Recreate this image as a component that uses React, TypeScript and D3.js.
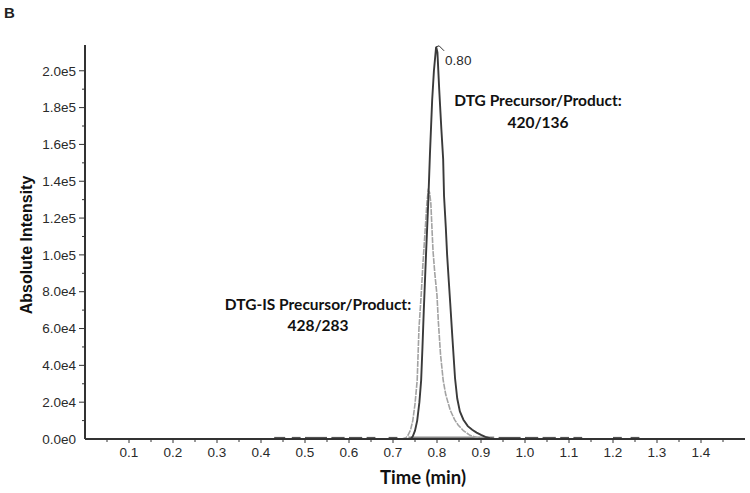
import React from "react";
import * as d3 from "d3";

const W = 750;
const H = 493;

// DTG (420/136) chromatogram: [time (min), intensity]
const dtgTime = [0, 0.72, 0.74, 0.745, 0.75, 0.755, 0.76, 0.764, 0.767, 0.77, 0.775, 0.78, 0.784, 0.789, 0.793, 0.798, 0.801, 0.805, 0.81, 0.814, 0.816, 0.82, 0.823, 0.827, 0.83, 0.835, 0.841, 0.846, 0.852, 0.86, 0.87, 0.88, 0.89, 0.9, 0.91, 0.92, 0.93, 1.5];
const dtgValue = [0, 0, 0, 1500, 4500, 10000, 20000, 32000, 50000, 70000, 100000, 128000, 155000, 184000, 200000, 213000, 210000, 190000, 168000, 152000, 132000, 115000, 100000, 85000, 74000, 55000, 33000, 22000, 15000, 10500, 7000, 5000, 3500, 2200, 1200, 500, 0, 0];

// DTG-IS (428/283) chromatogram
const isTime = [0.72, 0.73, 0.734, 0.74, 0.745, 0.75, 0.755, 0.759, 0.764, 0.768, 0.773, 0.777, 0.78, 0.783, 0.786, 0.789, 0.791, 0.795, 0.8, 0.803, 0.808, 0.814, 0.82, 0.83, 0.84, 0.848, 0.86, 0.875, 0.89, 0.92];
const isValue = [0, 800, 2000, 5000, 10000, 19000, 32000, 60000, 78000, 95000, 113000, 128000, 135000, 134000, 128000, 112000, 102000, 90000, 78000, 64000, 46000, 32000, 24000, 15700, 10500, 7600, 4500, 2000, 800, 0];

// baseline noise segments (start, end in min)
const noiseStart = [0.43, 0.47, 0.5, 0.56, 0.6, 0.64, 0.69, 0.94, 1.0, 1.04, 1.08, 1.11, 1.2, 1.24];
const noiseEnd = [0.455, 0.49, 0.55, 0.59, 0.63, 0.66, 0.71, 0.99, 1.03, 1.07, 1.1, 1.13, 1.22, 1.26];

const xTicks = [0.1, 0.2, 0.3, 0.4, 0.5, 0.6, 0.7, 0.8, 0.9, 1.0, 1.1, 1.2, 1.3, 1.4];
const yTicks = [0, 20000, 40000, 60000, 80000, 100000, 120000, 140000, 160000, 180000, 200000];
const yTickLabels = ["0.0e0", "2.0e4", "4.0e4", "6.0e4", "8.0e4", "1.0e5", "1.2e5", "1.4e5", "1.6e5", "1.8e5", "2.0e5"];

const apexTime = 0.798;
const apexValue = 213000;
const apexLabel = "0.80";

export default function App() {
  const x = d3.scaleLinear().domain([0, 1.5]).range([85, 745]);
  const y = d3.scaleLinear().domain([0, 214000]).range([439, 45]);

  const line = d3
    .line<[number, number]>()
    .x((d) => x(d[0]))
    .y((d) => y(d[1]));

  const dtgData: [number, number][] = dtgTime.map((t, i) => [t, dtgValue[i]]);
  const isData: [number, number][] = isTime.map((t, i) => [t, isValue[i]]);

  const minorX = d3.range(1, 30).map((i) => i * 0.05);
  const minorY = d3.range(1, 21).map((i) => i * 10000);

  const tickFont = "'Liberation Sans Narrow', 'Liberation Sans', Arial, sans-serif";
  const annFont = "Lato, 'Liberation Sans', sans-serif";

  return (
    <svg
      width={W}
      height={H}
      style={{ position: "absolute", left: 0, top: 0, background: "#fff" }}
    >
      <text x={4} y={18} fontFamily="'Liberation Sans', Arial, sans-serif" fontWeight="bold" fontSize={15} fill="#222">
        B
      </text>

      {/* baseline noise */}
      {noiseStart.map((s, i) => (
        <line key={"n" + i} x1={x(s)} x2={x(noiseEnd[i])} y1={y(0) - 1} y2={y(0) - 1} stroke="#555" strokeWidth={2.2} />
      ))}

      {/* IS baseline band */}
      <line x1={x(0.735)} x2={x(0.93)} y1={y(0) - 1} y2={y(0) - 1} stroke="#8a8a8a" strokeWidth={3} />

      {/* curves */}
      <path d={line(isData) || ""} fill="none" stroke="#a3a3a3" strokeWidth={1.6} strokeDasharray="6,1" />
      <path d={line(dtgData) || ""} fill="none" stroke="#3a3a3a" strokeWidth={1.9} />

      {/* axes */}
      <line x1={x(0)} x2={x(0)} y1={45} y2={y(0)} stroke="#333" strokeWidth={2} />
      <line x1={x(0)} x2={x(1.5)} y1={y(0)} y2={y(0)} stroke="#333" strokeWidth={2} />

      {minorY.map((v, i) => (
        <line key={"my" + i} x1={x(0) - (v % 20000 === 0 ? 6 : 3)} x2={x(0)} y1={y(v)} y2={y(v)} stroke="#333" strokeWidth={1} />
      ))}
      {yTicks.map((v, i) => (
        <text
          key={"yt" + i}
          x={x(0) - 9}
          y={y(v)}
          dy="0.35em"
          textAnchor="end"
          fontFamily={tickFont}
          fontSize={13.5}
          fill="#2a2a2a"
        >
          {yTickLabels[i]}
        </text>
      ))}

      {minorX.map((v, i) => (
        <line key={"mx" + i} x1={x(v)} x2={x(v)} y1={y(0)} y2={y(0) + (i % 2 === 1 ? 4 : 3)} stroke="#333" strokeWidth={1} />
      ))}
      {xTicks.map((v, i) => (
        <text
          key={"xt" + i}
          x={x(v)}
          y={457}
          textAnchor="middle"
          fontFamily={tickFont}
          fontSize={13.5}
          fill="#2a2a2a"
        >
          {v.toFixed(1)}
        </text>
      ))}

      {/* axis titles */}
      <text
        x={423}
        y={484}
        textAnchor="middle"
        fontFamily={annFont}
        fontWeight="bold"
        fontSize={18.5}
        fill="#111"
      >
        Time (min)
      </text>
      <text
        transform={`translate(32,${245}) rotate(-90)`}
        textAnchor="middle"
        fontFamily="'Liberation Sans', Arial, sans-serif"
        fontWeight="bold"
        fontSize={16}
        fill="#111"
      >
        Absolute Intensity
      </text>

      {/* apex label */}
      <polyline
        points={`${x(apexTime)},${y(apexValue)} ${x(apexTime) + 3},${y(apexValue) - 1} ${x(apexTime) + 8},${y(apexValue) + 4}`}
        fill="none"
        stroke="#333"
        strokeWidth={1}
      />
      <text x={x(apexTime) + 9} y={y(apexValue) + 18} fontFamily={tickFont} fontSize={13.5} fill="#2a2a2a">
        {apexLabel}
      </text>

      {/* annotations */}
      <text x={538} y={106} textAnchor="middle" fontFamily={annFont} fontWeight="bold" fontSize={15.5} fill="#111">
        DTG Precursor/Product:
      </text>
      <text x={538} y={128} textAnchor="middle" fontFamily={annFont} fontWeight="bold" fontSize={15.5} fill="#111">
        420/136
      </text>
      <text x={318} y={310} textAnchor="middle" fontFamily={annFont} fontWeight="bold" fontSize={15.5} fill="#111">
        DTG-IS Precursor/Product:
      </text>
      <text x={318} y={331} textAnchor="middle" fontFamily={annFont} fontWeight="bold" fontSize={15.5} fill="#111">
        428/283
      </text>
    </svg>
  );
}
